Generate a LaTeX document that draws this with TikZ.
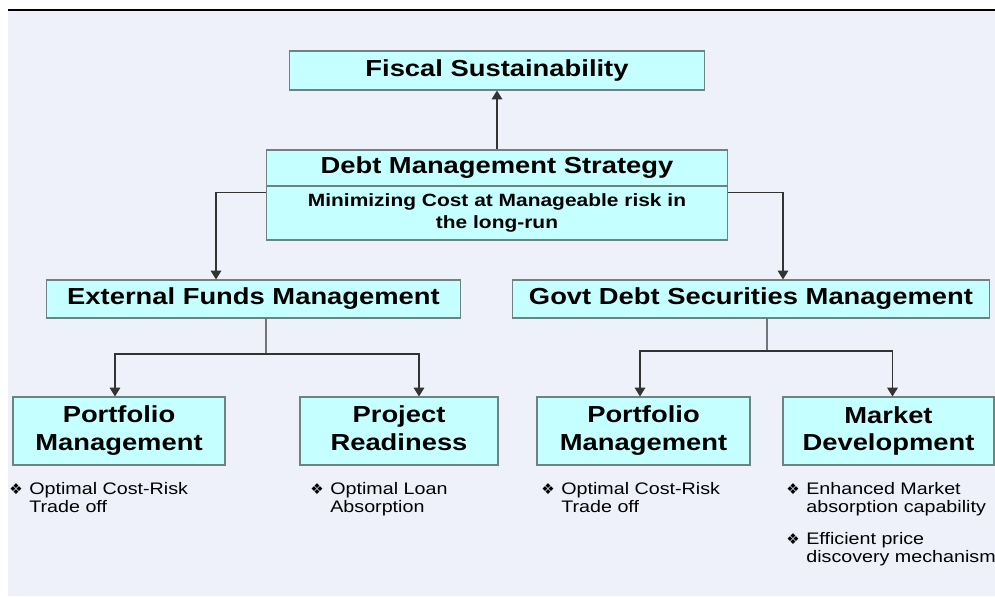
\documentclass[tikz,border=0pt]{standalone}
\usepackage{fontspec}
\setmainfont{Liberation Sans}[FakeStretch=1.18]
\newfontfamily\symfont{DejaVu Sans}
\usetikzlibrary{arrows.meta}
\definecolor{bgpanel}{HTML}{EEF1F9}
\definecolor{boxfill}{HTML}{C6FFFF}
\definecolor{boxline}{HTML}{6E8282}
\newcommand{\bul}{\makebox[0.4cm][l]{\symfont\fontsize{8.5}{8.5}\selectfont ❖}}
\newcommand{\ind}{\hspace*{0.4cm}}
\begin{document}
\begin{tikzpicture}[x=0.02cm, y=-0.02cm,
  box/.style={draw=boxline, fill=boxfill, line width=0.6pt, inner sep=0pt, align=center,
    font=\bfseries\fontsize{13.2}{15.9}\selectfont},
  link/.style={draw=black!80, line width=0.7pt},
  arr/.style={-{Triangle[width=6pt,length=5pt]}},
  note/.style={anchor=north west, align=left, inner sep=0pt,
    font=\fontsize{9.5}{10.2}\selectfont}]
  \useasboundingbox (0,0) rectangle (995,596);
  \fill[bgpanel] (8,10) rectangle (995,596);
  \draw[line width=0.8pt] (8,10) -- (995,10);

  \node[box, minimum width=8.3cm, minimum height=0.78cm] (fiscal) at (497,70.5) {Fiscal Sustainability};
  \node[box, minimum width=9.24cm, minimum height=0.72cm] (dms) at (497,168) {Debt Management Strategy};
  \node[box, minimum width=9.24cm, minimum height=1.08cm,
    font=\bfseries\fontsize{10.1}{12.5}\selectfont] (aim) at (497,213)
    {Minimizing Cost at Manageable risk in\\the long-run};
  \node[box, minimum width=8.3cm, minimum height=0.76cm] (efm) at (253.5,299) {External Funds Management};
  \node[box, minimum width=9.56cm, minimum height=0.76cm] (gdsm) at (751,299) {Govt Debt Securities Management};
  \node[box, minimum width=4.24cm, minimum height=1.36cm] (pml) at (119,431) {Portfolio\\Management};
  \node[box, minimum width=3.96cm, minimum height=1.36cm] (prj) at (399,431) {Project\\Readiness\vphantom{g}};
  \node[box, minimum width=4.26cm, minimum height=1.36cm] (pmr) at (643.5,431) {Portfolio\\Management};
  \node[box, minimum width=4.22cm, minimum height=1.36cm] (mkd) at (888.5,431) {Market\\Development};

  \draw[link, arr] (dms) -- (fiscal);
  \draw[link, arr] ([yshift=-0.14cm]aim.north west) -| ([xshift=-0.75cm]efm.north);
  \draw[link, arr] ([yshift=-0.14cm]aim.north east) -| ([xshift=0.64cm]gdsm.north);
  \coordinate (efmj) at (266,354);
  \draw[link] ([xshift=0.25cm]efm.south) -- (efmj);
  \draw[link, arr] (efmj) -| ([xshift=-0.08cm]pml.north);
  \draw[link, arr] (efmj) -| ([xshift=0.4cm]prj.north);
  \coordinate (gdsmj) at (767,351);
  \draw[link] ([xshift=0.32cm]gdsm.south) -- (gdsmj);
  \draw[link, arr] (gdsmj) -| ([xshift=-0.07cm]pmr.north);
  \draw[link, arr] (gdsmj) -| ([xshift=0.08cm]mkd.north);

  \node[note] (pmlnote) at (9,482) {\bul Optimal Cost-Risk\\\ind Trade off};
  \node[note] (prjnote) at (310,482) {\bul Optimal Loan\\\ind Absorption};
  \node[note] (pmrnote) at (541,482) {\bul Optimal Cost-Risk\\\ind Trade off};
  \node[note] (mkdnote1) at (786,482) {\bul Enhanced Market\\\ind absorption capability};
  \node[note] (mkdnote2) at (786,532) {\bul Efficient price\\\ind discovery mechanism};
\end{tikzpicture}
\end{document}
